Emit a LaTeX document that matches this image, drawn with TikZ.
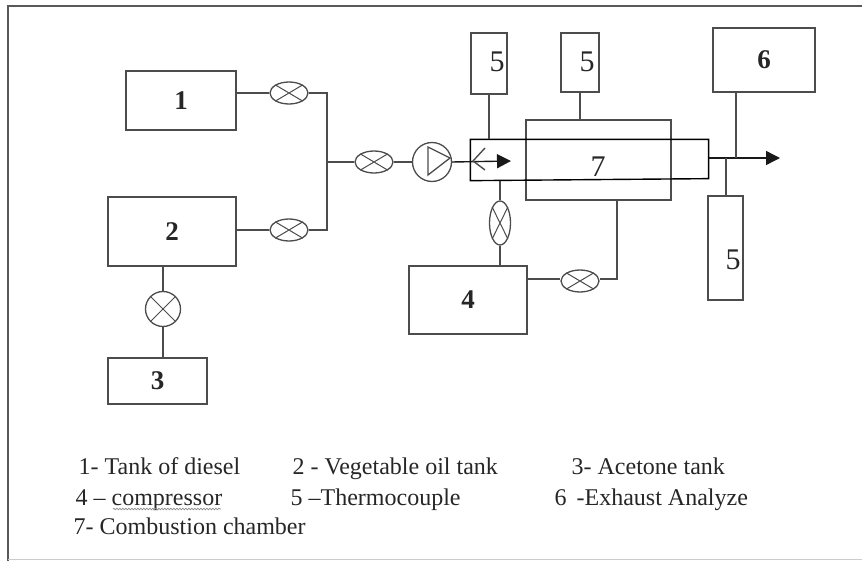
\documentclass[tikz,border=0pt]{standalone}
\usepackage{fontspec}
\setmainfont{Liberation Serif}
\usetikzlibrary{shapes.geometric, arrows.meta, decorations.pathmorphing}

\tikzset{
  tank/.style={draw, rectangle, inner sep=0pt, font=\fontsize{27}{27}\selectfont\bfseries},
  sensor/.style={draw, rectangle, inner sep=0pt},
  tag/.style={inner sep=0pt, font=\fontsize{30}{30}\selectfont},
  valve/.style={draw, ellipse, inner sep=0pt, minimum width=38pt, minimum height=22pt},
  legend/.style={anchor=base west, inner sep=0pt, font=\fontsize{24}{24}\selectfont},
  pipe/.style={line width=1.4pt, black!70},
  flow/.style={pipe, -{Triangle[length=14pt,width=14pt]}}
}

\begin{document}
\begin{tikzpicture}[x=1pt, y=-1pt, line width=1.3pt, color=black!70, every node/.append style={text=black!85}]
\useasboundingbox (0, 0) rectangle (862, 561);
% frame
\draw [line width=2pt, black!65] (862, 6) -- (8, 6) -- (8, 561);
\draw [line width=1pt, black!20] (8, 559) -- (862, 559);
% tanks
\node [tank, minimum width=110pt, minimum height=59pt] (tanka) at (181, 100.5) {1};
\node [tank, minimum width=128pt, minimum height=69pt] (tankb) at (172, 231.5) {2};
\node [tank, minimum width=99pt, minimum height=46pt] (tankc) at (157.5, 381) {3};
\node [tank, minimum width=118pt, minimum height=68pt] (tankd) at (468, 300) {4};
\node [tank, minimum width=102pt, minimum height=64pt] (tanke) at (764, 60) {6};
% thermocouples
\node [sensor, minimum width=36pt, minimum height=61pt] (senb) at (489, 63.5) {};
\node [sensor, minimum width=38pt, minimum height=59pt] (senc) at (580, 62.5) {};
\node [sensor, minimum width=35pt, minimum height=104pt] (send) at (725.5, 248) {};
\node [tag] (tagb) at (497, 62) {5};
\node [tag] (tagc) at (587, 62) {5};
\node [tag] (tagd) at (733, 260) {5};
% chamber and tube
\node [draw, rectangle, inner sep=0pt, minimum width=145pt, minimum height=80pt] (chamber) at (598.5, 160) {};
\node [rectangle, inner sep=0pt, minimum width=237pt, minimum height=40pt] (tube) at (589.5, 160) {};
\draw [black, line width=1.4pt] (tube.north west) -- (tube.north east) -- ([yshift=2pt]tube.south east) -- (tube.south west) -- cycle;
\node [tag] (tagf) at (598, 167) {7};
% valves
\node [valve] (valvea) at (289, 93) {};
\node [valve] (valveb) at (289, 230) {};
\node [valve] (valvec) at (374, 162) {};
\node [valve] (valved) at (580, 281) {};
\node [valve, minimum width=21pt, minimum height=44pt] (valvee) at (500, 223) {};
\node [draw, circle, inner sep=0pt, minimum size=35pt] (valvef) at (163, 309) {};
\foreach \v in {valvea, valveb, valvec, valved, valvee, valvef} \draw [line width=1pt] (\v.north west) -- (\v.south east) (\v.north east) -- (\v.south west);
% pump
\node [draw, circle, inner sep=0pt, minimum size=39pt] (pump) at (432, 162) {};
\coordinate (apex) at (450, 158);
\draw (428, 147) -- (apex) -- (428, 175) -- cycle;
% junctions
\coordinate (joint) at (327, 162);
\coordinate (outa) at (726, 158);
\coordinate (outb) at (736, 158);
\coordinate (tip) at (780, 158);
\coordinate (nozzle) at (473, 161);
\coordinate (head) at (511, 161);
\coordinate (feed) at (617, 279);
\coordinate (bendl) at (485, 148);
\coordinate (bendr) at (485, 170);
% pipes
\draw [pipe] (tanka.east |- valvea) -- (valvea);
\draw [pipe] (valvea) -| (joint);
\draw [pipe] (tankb.east |- valveb) -- (valveb);
\draw [pipe] (valveb) -| (joint);
\draw [pipe] (joint) -- (valvec);
\draw [pipe] (valvec) -- (pump);
\draw [pipe] (valvef.north |- tankb.south) -- (valvef.north);
\draw [pipe] (valvef.south) -- (valvef.south |- tankc.north);
\draw [flow, black!90] (pump.east) -- (head);
\draw [pipe] (bendl) -- (nozzle) -- (bendr);
\draw [pipe] (valvee.north) -- (valvee.north |- tube.south);
\draw [pipe] (valvee.south) -- (valvee.south |- tankd.north);
\draw [pipe] (tankd.east |- feed) -- (valved.west |- feed);
\draw [pipe] (valved.east |- feed) -- (feed) -- (feed |- chamber.south);
\draw [flow, black!90] (tube.east |- tip) -- (tip);
\draw [pipe] (senb.south) -- (senb.south |- tube.north);
\draw [pipe] (senc.south) -- (senc.south |- chamber.north);
\draw [pipe] (outb) -- (outb |- tanke.south);
\draw [pipe] (outa) -- (outa |- send.north);
% legend
\node [legend] (lega) at (78, 474) {1- Tank of diesel};
\node [legend] (legb) at (292, 474) {2 - Vegetable oil tank};
\node [legend] (legc) at (571, 474) {3- Acetone tank};
\node [legend] (legd) at (75, 505) {4 -- compressor};
\node [legend] (lege) at (290, 505) {5 --Thermocouple};
\node [legend] (legf) at (554, 505) {6 \,-Exhaust Analyze};
\node [legend] (legg) at (73, 534) {7- Combustion chamber};
\draw [black!45, line width=0.7pt, decorate, decoration={snake, amplitude=0.8pt, segment length=3pt}] (113, 509) -- (221, 509);
\end{tikzpicture}
\end{document}
